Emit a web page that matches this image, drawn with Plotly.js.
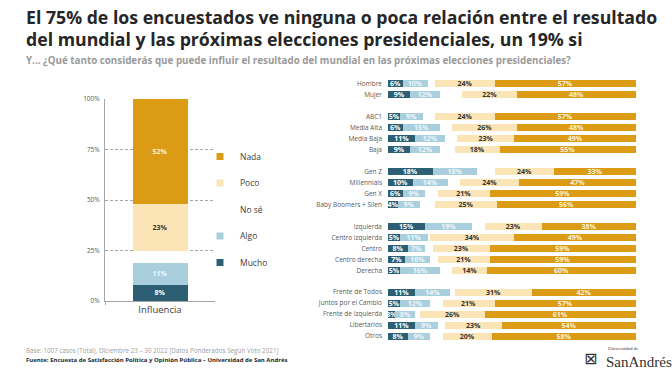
<!DOCTYPE html>
<html>
<head>
<meta charset="utf-8">
<script src="https://cdn.plot.ly/plotly-3.0.1.min.js"></script>
<style>
html,body{margin:0;padding:0;background:#fff;}
#chart{width:672px;height:370px;}
</style>
</head>
<body>
<div id="chart"></div>
<script>
// ---- Data ----
const seriesNames = ["Mucho", "Algo", "No sé", "Poco", "Nada"];

// Left chart (total)
const totalCategory = ["Influencia"];
const totalMucho = [8];
const totalAlgo = [11];
const totalNoSe = [6];
const totalPoco = [23];
const totalNada = [52];
const pctTicks = [0, 25, 50, 75, 100];
const pctTickLabels = ["0%", "25%", "50%", "75%", "100%"];

// Right chart (segments)
const rowLabels = ["Hombre", "Mujer", "ABC1", "Media Alta", "Media Baja", "Baja",
  "Gen Z", "Millennials", "Gen X", "Baby Boomers + Silen",
  "Izquierda", "Centro izquierda", "Centro", "Centro derecha", "Derecha",
  "Frente de Todos", "Juntos por el Cambio", "Frente de Izquierda", "Libertarios", "Otros"];
const rowGroup = [0, 0, 1, 1, 1, 1, 2, 2, 2, 2, 3, 3, 3, 3, 3, 4, 4, 4, 4, 4];
const segMucho = [6, 9, 5, 6, 11, 9, 18, 10, 6, 4, 15, 5, 8, 7, 5, 11, 5, 3, 11, 8];
const segAlgo = [10, 12, 9, 15, 12, 12, 18, 14, 9, 9, 19, 11, 7, 10, 16, 14, 12, 8, 9, 9];
const segNoSe = [3, 9, 5, 5, 5, 6, 7, 5, 5, 6, 5, 1, 3, 3, 5, 2, 5, 2, 3, 5];
const segPoco = [24, 22, 24, 26, 23, 18, 24, 24, 21, 25, 23, 34, 23, 21, 14, 31, 21, 26, 23, 20];
const segNada = [57, 48, 57, 48, 49, 55, 33, 47, 59, 56, 38, 49, 59, 59, 60, 42, 57, 61, 54, 58];

// ---- Styles ----
const colors = {"Mucho": "#2c5f74", "Algo": "#a9cfdf", "No sé": "rgba(255,255,255,0)", "Poco": "#fbe4b6", "Nada": "#db9b14"};
const textColors = {"Mucho": "#ffffff", "Algo": "#eef6fa", "No sé": "#ffffff", "Poco": "#333333", "Nada": "#fdf3dc"};
const FONT = "Open Sans, Noto Sans, sans-serif";

// row positions with a blank slot between groups
const yPos = rowLabels.map((_, i) => i + rowGroup[i]);

const totalVals = {"Mucho": totalMucho, "Algo": totalAlgo, "No sé": totalNoSe, "Poco": totalPoco, "Nada": totalNada};
const segVals = {"Mucho": segMucho, "Algo": segAlgo, "No sé": segNoSe, "Poco": segPoco, "Nada": segNada};
const pct = arr => arr.map(v => "<b>" + v + "%</b>");

const traces = [];
seriesNames.forEach(name => {
  const isGap = name === "No sé";
  traces.push({
    type: "bar", name: name, x: totalCategory, y: totalVals[name],
    xaxis: "x", yaxis: "y", width: 0.5,
    marker: {color: colors[name]},
    text: isGap ? null : pct(totalVals[name]), texttemplate: isGap ? "" : "%{text}",
    textposition: isGap ? "none" : "inside", insidetextanchor: "middle",
    textfont: {family: FONT, size: 7, color: textColors[name]},
    showlegend: false, hoverinfo: "skip"
  });
  traces.push({
    type: "bar", orientation: "h", name: name, x: segVals[name], y: yPos,
    xaxis: "x2", yaxis: "y2", width: 0.64,
    marker: {color: colors[name]},
    text: isGap ? null : pct(segVals[name]), texttemplate: isGap ? "" : "%{text}",
    textposition: isGap ? "none" : "inside", insidetextanchor: "middle",
    textfont: {family: FONT, size: 7, color: textColors[name]},
    showlegend: false, hoverinfo: "skip"
  });
});
// legend entries (small square markers), listed top to bottom as in the reference
seriesNames.slice().reverse().forEach(name => {
  const isGap = name === "No sé";
  traces.push({
    type: "scatter", mode: "markers", name: name, x: [null], y: [null],
    xaxis: "x", yaxis: "y",
    marker: {symbol: "square", size: 7, color: isGap ? "rgba(255,255,255,0)" : colors[name]},
    showlegend: true, legendgroup: "lg-" + name, hoverinfo: "skip"
  });
});

const W = 672, H = 370;
const px = v => v / W, py = v => 1 - v / H;

const layout = {
  width: W, height: H,
  margin: {l: 0, r: 0, t: 0, b: 0},
  paper_bgcolor: "#ffffff", plot_bgcolor: "rgba(0,0,0,0)",
  font: {family: FONT, color: "#404040"},
  barmode: "stack", bargap: 0,
  uniformtext: {mode: "show", minsize: 7},
  showlegend: true,
  legend: {
    x: px(200), xanchor: "left", y: py(142), yanchor: "top",
    font: {family: FONT, size: 8.5, color: "#404040"},
    traceorder: "grouped", tracegroupgap: 7.5,
    bgcolor: "rgba(0,0,0,0)", itemclick: false
  },
  xaxis: {
    domain: [px(105), px(215)], type: "category", anchor: "y",
    showline: true, linecolor: "#a6a6a6", linewidth: 1,
    ticks: "outside", tickson: "boundaries", ticklen: 3, tickcolor: "#a6a6a6",
    tickfont: {family: FONT, size: 9.5, color: "#404040"},
    showgrid: false, zeroline: false, fixedrange: true
  },
  yaxis: {
    domain: [py(301), py(99)], range: [0, 100], anchor: "x",
    tickmode: "array", tickvals: pctTicks, ticktext: pctTickLabels,
    tickfont: {family: FONT, size: 6.5, color: "#595959"}, ticklabelstandoff: 3,
    showline: true, linecolor: "#a6a6a6", linewidth: 1,
    showgrid: true, gridcolor: "#a6a6a6", gridwidth: 1, griddash: "3px,2px",
    zeroline: false, ticks: "", fixedrange: true
  },
  xaxis2: {
    domain: [px(388), px(636)], range: [0, 100], anchor: "y2",
    visible: false, fixedrange: true
  },
  yaxis2: {
    domain: [py(341.5), py(78.5)], range: [23.5, -0.5], anchor: "x2",
    tickmode: "array", tickvals: yPos, ticktext: rowLabels,
    tickfont: {family: FONT, size: 6.5, color: "#595959"}, ticklabelstandoff: 5,
    showgrid: false, zeroline: false, showline: false, ticks: "", fixedrange: true
  },
  annotations: [
    {text: "<b>El 75% de los encuestados ve ninguna o poca relación entre el resultado</b>",
     xref: "paper", yref: "paper", x: px(24), y: py(17), xanchor: "left", yanchor: "middle",
     showarrow: false, font: {family: FONT, size: 17.7, color: "#262626"}},
    {text: "<b>del mundial y las próximas elecciones presidenciales, un 19% si</b>",
     xref: "paper", yref: "paper", x: px(24), y: py(39), xanchor: "left", yanchor: "middle",
     showarrow: false, font: {family: FONT, size: 17.7, color: "#262626"}},
    {text: "<b>Y... ¿Qué tanto considerás que puede influir el resultado del mundial en las próximas elecciones presidenciales?</b>",
     xref: "paper", yref: "paper", x: px(24), y: py(61), xanchor: "left", yanchor: "middle",
     showarrow: false, font: {family: FONT, size: 9.8, color: "#9a9a9a"}},
    {text: "Base: 1007 casos (Total), Diciembre 23 – 30 2022 [Datos Ponderados Según Voto 2021]",
     xref: "paper", yref: "paper", x: px(24), y: py(350), xanchor: "left", yanchor: "middle",
     showarrow: false, font: {family: FONT, size: 6.3, color: "#a0a0a0"}},
    {text: "<b>Fuente: Encuesta de Satisfacción Política y Opinión Pública – Universidad de San Andrés</b>",
     xref: "paper", yref: "paper", x: px(24), y: py(360), xanchor: "left", yanchor: "middle",
     showarrow: false, font: {family: FONT, size: 6, color: "#262626"}},
    {text: "⊠",
     xref: "paper", yref: "paper", x: px(590), y: py(358), xanchor: "center", yanchor: "middle",
     showarrow: false, font: {family: "DejaVu Sans", size: 16, color: "#333333"}},
    {text: "Universidad de",
     xref: "paper", yref: "paper", x: px(606), y: py(348.5), xanchor: "left", yanchor: "middle",
     showarrow: false, font: {family: "Liberation Serif, DejaVu Serif, serif", size: 5, color: "#333333"}},
    {text: "SanAndrés",
     xref: "paper", yref: "paper", x: px(604), y: py(362), xanchor: "left", yanchor: "middle",
     showarrow: false, font: {family: "Liberation Serif, DejaVu Serif, serif", size: 15, color: "#333333"}}
  ]
};

Plotly.newPlot("chart", traces, layout, {displayModeBar: false, staticPlot: true});
</script>
</body>
</html>
